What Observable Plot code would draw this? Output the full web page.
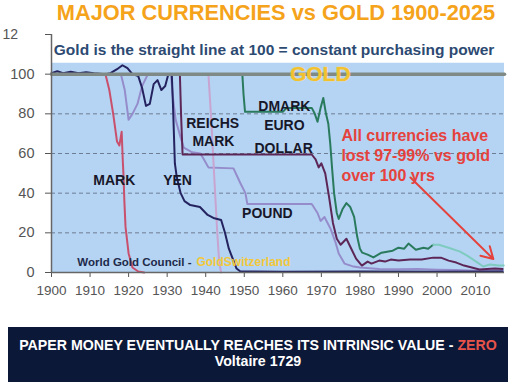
<!DOCTYPE html>
<html><head><meta charset="utf-8">
<script src="https://cdn.jsdelivr.net/npm/d3@7"></script>
<script src="https://cdn.jsdelivr.net/npm/@observablehq/plot@0.6"></script>
<style>
body{margin:0;background:#fff;font-family:"Liberation Sans",Arial,Helvetica,sans-serif;width:516px;height:392px;position:relative;overflow:hidden}
#title{position:absolute;left:0;top:0;width:516px;padding-left:36px;box-sizing:border-box;text-align:center;font-size:21.8px;font-weight:bold;color:#f5a31a;line-height:26px;white-space:nowrap}
#chart{position:absolute;left:0;top:27px}
#banner{position:absolute;left:8px;top:327px;width:500px;height:55px;background:#0c1838;color:#fff;font-weight:bold;font-size:14.2px;text-align:center;display:flex;flex-direction:column;justify-content:center;line-height:16px;padding-bottom:4px;box-sizing:border-box;white-space:nowrap}
#banner .zero{color:#e8534a}
</style></head>
<body>
<div id="title">MAJOR CURRENCIES vs GOLD 1900-2025</div>
<div id="chart"></div>
<div id="banner"><div>PAPER MONEY EVENTUALLY REACHES ITS INTRINSIC VALUE - <span class="zero">ZERO</span></div><div>Voltaire 1729</div></div>
<script>
// ---- data (year, value relative to gold = 100) ----
const xTicks = [1900,1910,1920,1930,1940,1950,1960,1970,1980,1990,2000,2010];
const yTicks = [0,20,40,60,80,100,120];
const gridValues = [20,40,60,80];
const gold = [[1900,100],[2017.5,100]];

const mark = [[1900,100],[1914,100],[1915,92],[1916,80],[1917,66],[1917.6,64],[1918.2,71],[1918.5,56],[1918.7,48],[1918.9,36],[1919.2,23],[1920,9.6],[1921,2.5],[1922.5,0.5],[1924,0]];

const pound = [[1900,100],[1918,100],[1919,92],[1920,77],[1921,80],[1922.3,85],[1923.5,94],[1925,100],[1931,100],[1931.4,90],[1932.2,77],[1933.5,68],[1934.3,63],[1936.5,60.6],[1938.6,60],[1939.4,57.5],[1940.7,53],[1947.2,52.5],[1949,45],[1950.3,40],[1950.8,34.5],[1967.5,34.5],[1969,30],[1969.8,26],[1970.8,28],[1972.4,22],[1973.7,15],[1974.5,9.6],[1976,4.5],[1978,3.2],[1980,2.5],[1985,1.8],[1990,1.6],[1995,1.8],[2000,1.4],[2005,1.2],[2010,0.9],[2017,1]];

const yen = [[1900,100.5],[1901.5,101.5],[1903,100.5],[1905,101.2],[1907,100.5],[1909,101],[1911,100.5],[1914,100],[1915.3,100.5],[1917,102.5],[1918.4,104.5],[1919.7,103],[1921,100],[1922.5,99],[1923.5,93],[1924.5,84],[1925.5,85],[1926.5,95],[1927.5,97],[1928.5,92],[1929.5,94],[1930.3,100],[1931.2,100],[1931.5,85],[1932,55],[1932.5,48],[1933.5,40],[1934.5,36],[1936,34],[1938.5,33],[1940.5,29],[1942,27.5],[1944,26.5],[1945,20],[1946,12],[1947,7],[1948,2],[1949,0.5],[1960,0.4],[1980,0.5],[2000,0.4],[2017,0.5]];

const reichsmark = [[1924,100],[1940.7,100],[1941.5,75],[1942.3,45],[1943,20],[1943.5,5],[1944,0]];

const dollar = [[1900,100],[1933.3,100],[1933.6,80],[1934,59.5],[1967.5,59.5],[1968.5,57],[1969.3,53],[1970,55],[1971,50],[1972,38],[1973,25],[1974,17],[1975,14],[1976.5,17],[1977.5,13],[1979,7],[1980.5,3.5],[1982,5.5],[1983,4.5],[1985,6],[1986.5,5.5],[1988,6.5],[1990,6],[1993,6.5],[1996,6.5],[1999,7.5],[2001,7.5],[2003,6],[2005,5],[2007,3.5],[2009,2.5],[2011,1.5],[2013,1.8],[2015,2],[2017,1.8]];

const dmark = [[1948,100],[1949.5,100],[1949.8,90],[1950.2,81],[1960,81],[1961,83],[1967.5,83],[1968.3,80],[1969,76],[1969.8,83],[1970.5,88],[1971.2,80],[1971.8,75],[1972.3,65],[1972.8,52],[1973.3,40],[1974,30],[1974.5,27],[1975.5,32],[1976.5,35],[1977.5,33],[1978.5,28],[1979.3,18],[1980,12],[1980.6,10],[1982,9],[1983.5,7.6],[1985.6,10],[1988.5,11],[1990,12.5],[1991.5,12],[1992.6,14.6],[1994.5,11.5],[1996.5,12.5],[1997.7,12],[1999,14]];

const euro = [[1999,14],[2000.5,14],[2003,12.5],[2006,10.5],[2007.8,8.5],[2009,7],[2010.5,5],[2012,3],[2013.7,4],[2016,3.5],[2017.3,3.5]];

const currencyLabels = [
  {year:1916.3, value:46.4, text:"MARK"},
  {year:1932.7, value:46.4, text:"YEN"},
  {year:1941.8, value:75.1, text:"REICHS"},
  {year:1942.0, value:66.1, text:"MARK"},
  {year:1960.4, value:83.7, text:"DMARK"},
  {year:1960.4, value:74.1, text:"EURO"},
  {year:1960.2, value:62.5, text:"DOLLAR"},
  {year:1956.0, value:29.8, text:"POUND"}
];
const noteLines = [
  {year:1975.2, value:69.0, text:"All currencies have"},
  {year:1975.2, value:59.0, text:"lost 97-99% vs gold"},
  {year:1975.2, value:48.6, text:"over 100 yrs"}
];
const arrowData = [{year1:1993.1, value1:47.9, year2:2014.6, value2:6.8}];
const plotArea = [{x1:1900, x2:2017.5, y1:0, y2:105.5}];
const subtitle = [{year:1900.6, value:112, text:"Gold is the straight line at 100 = constant purchasing power"}];
const goldLabel = [{year:1969.7, value:100, text:"GOLD"}];
const sourceA = [{year:1906.7, value:5.2, text:"World Gold Council -"}];
const sourceB = [{year:1937.6, value:5.2, text:"GoldSwitzerland"}];
const topLabel = [{year:1900, value:120, text:"12"}];

const line = (data, color, w=2) => Plot.line(data, {x:d=>d[0], y:d=>d[1], stroke:color, strokeWidth:w, curve:"linear", strokeLinejoin:"round"});

const chart = Plot.plot({
  width:516, height:285,
  marginLeft:51, marginRight:12, marginTop:7, marginBottom:40,
  style:{fontFamily:"'Liberation Sans', Arial, sans-serif", background:"transparent", overflow:"visible"},
  x:{domain:[1900,2017.5]},
  y:{domain:[0,120]},
  marks:[
    Plot.rect(plotArea, {x1:"x1", x2:"x2", y1:"y1", y2:"y2", fill:"#b5d4f3"}),
    Plot.ruleY(gridValues, {stroke:"#6d7d93", strokeDasharray:"4,3", strokeWidth:1}),
    Plot.axisX({ticks:xTicks, tickFormat:d=>String(d), tickSize:5, tickPadding:8, fontSize:13.5, color:"#555", label:null}),
    Plot.axisY({ticks:yTicks, tickFormat:d=>d===120?"":String(d), tickSize:6, tickPadding:11, fontSize:14.5, color:"#555", label:null}),
    Plot.text(topLabel, {x:"year", y:"value", text:"text", dx:-49, textAnchor:"start", fontSize:14, fill:"#555"}),
    line(mark, "#c9506c"),
    line(pound, "#958dcb"),
    line(reichsmark, "#c8a4d0"),
    line(yen, "#24235f"),
    line(dmark, "#2a7a5e"),
    line(euro, "#7fcbbf"),
    line(dollar, "#5c2657"),
    line(gold, "#7f8986", 3.5),
    Plot.ruleY([0], {stroke:"#666", strokeWidth:1.5}),
    Plot.ruleX([1900], {y1:0, y2:120, stroke:"#666", strokeWidth:1.5}),
    Plot.text(goldLabel, {x:"year", y:"value", text:"text", fontSize:21, fontWeight:"bold", fill:"#f2c12e", stroke:"#f6dc8a", strokeWidth:0.6}),
    Plot.text(subtitle, {x:"year", y:"value", text:"text", textAnchor:"start", fontSize:15.5, fontWeight:"bold", fill:"#2d4a72"}),
    Plot.text(currencyLabels, {x:"year", y:"value", text:"text", fontSize:14, fontWeight:"bold", fill:"#17172a"}),
    Plot.text(noteLines, {x:"year", y:"value", text:"text", textAnchor:"start", fontSize:16, fontWeight:"bold", fill:"#e5423d"}),
    Plot.arrow(arrowData, {x1:"year1", y1:"value1", x2:"year2", y2:"value2", stroke:"#e5423d", strokeWidth:2, headLength:10}),
    Plot.text(sourceA, {x:"year", y:"value", text:"text", textAnchor:"start", fontSize:11.5, fontWeight:"bold", fill:"#1e2a4a"}),
    Plot.text(sourceB, {x:"year", y:"value", text:"text", textAnchor:"start", fontSize:12, fontWeight:"bold", fill:"#f2c83a"})
  ]
});
document.getElementById("chart").appendChild(chart);
</script>
</body></html>
